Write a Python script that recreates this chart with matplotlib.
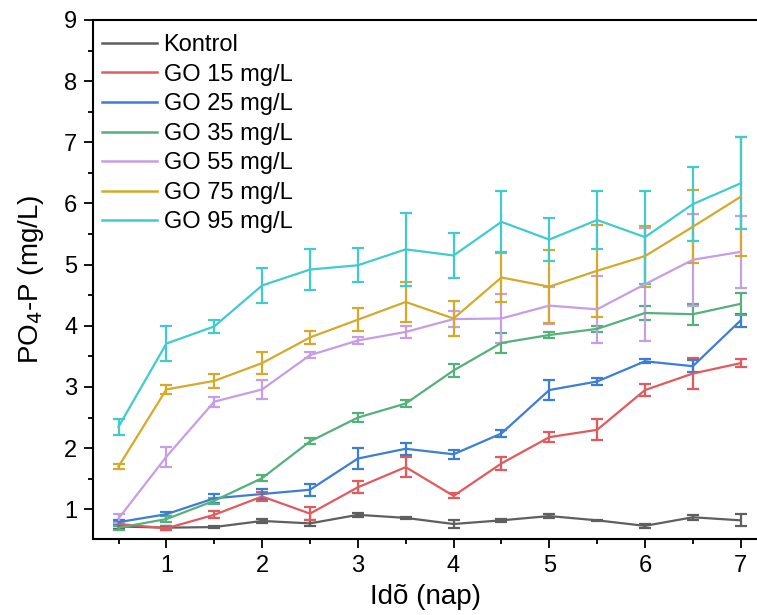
import matplotlib.pyplot as plt
from matplotlib.lines import Line2D
from matplotlib.ticker import MultipleLocator

plt.rcParams['font.family'] = ['Liberation Sans', 'DejaVu Sans']

days = [0.5, 1, 1.5, 2, 2.5, 3, 3.5, 4, 4.5, 5, 5.5, 6, 6.5, 7]

labels = ["Kontrol", "GO 15 mg/L", "GO 25 mg/L", "GO 35 mg/L",
          "GO 55 mg/L", "GO 75 mg/L", "GO 95 mg/L"]
colors = ["#5f5f5f", "#e35a5e", "#3b7ed4", "#55b07c",
          "#c79de3", "#d4aa2a", "#40cccc"]

kontrol = [0.72, 0.70, 0.71, 0.81, 0.77, 0.91, 0.86, 0.76, 0.82, 0.89, 0.82, 0.73, 0.87, 0.82]
kontrol_err = [0.04, 0.03, 0.02, 0.03, 0.05, 0.03, 0.02, 0.06, 0.02, 0.03, 0.01, 0.03, 0.04, 0.10]

go15 = [0.76, 0.69, 0.91, 1.21, 0.93, 1.36, 1.69, 1.22, 1.75, 2.18, 2.30, 2.95, 3.22, 3.39]
go15_err = [0.04, 0.03, 0.06, 0.07, 0.10, 0.10, 0.16, 0.04, 0.10, 0.08, 0.17, 0.10, 0.25, 0.06]

go25 = [0.79, 0.92, 1.18, 1.25, 1.32, 1.83, 1.99, 1.90, 2.24, 2.95, 3.09, 3.42, 3.34, 4.09]
go25_err = [0.03, 0.03, 0.07, 0.08, 0.10, 0.17, 0.10, 0.07, 0.05, 0.17, 0.05, 0.03, 0.10, 0.11]

go35 = [0.70, 0.84, 1.14, 1.51, 2.11, 2.50, 2.73, 3.27, 3.72, 3.85, 3.95, 4.21, 4.19, 4.36]
go35_err = [0.03, 0.05, 0.05, 0.05, 0.05, 0.08, 0.05, 0.10, 0.16, 0.05, 0.05, 0.12, 0.17, 0.18]

go55 = [0.85, 1.86, 2.76, 2.96, 3.52, 3.76, 3.90, 4.11, 4.12, 4.33, 4.27, 4.68, 5.08, 5.21]
go55_err = [0.07, 0.16, 0.08, 0.16, 0.05, 0.06, 0.10, 0.13, 0.40, 0.30, 0.55, 0.92, 0.75, 0.59]

go75 = [1.70, 2.96, 3.10, 3.39, 3.81, 4.10, 4.39, 4.12, 4.79, 4.64, 4.90, 5.14, 5.62, 6.11]
go75_err = [0.04, 0.08, 0.12, 0.18, 0.10, 0.19, 0.33, 0.29, 0.40, 0.60, 0.75, 0.50, 0.60, 0.97]

go95 = [2.35, 3.71, 3.99, 4.66, 4.92, 4.99, 5.25, 5.15, 5.70, 5.41, 5.73, 5.45, 5.99, 6.33]
go95_err = [0.13, 0.28, 0.10, 0.29, 0.33, 0.28, 0.60, 0.37, 0.50, 0.35, 0.48, 0.76, 0.61, 0.75]

series = [kontrol, go15, go25, go35, go55, go75, go95]
errors = [kontrol_err, go15_err, go25_err, go35_err, go55_err, go75_err, go95_err]

fig = plt.figure(figsize=(7.57, 6.15), dpi=100)
ax = fig.add_axes([0.1233, 0.1231, 0.8767, 0.8444])

handles = []
for vals, errs, col, lab in zip(series, errors, colors, labels):
    ax.errorbar(days, vals, yerr=errs, color=col, lw=1.6,
                elinewidth=1.6, capsize=4.5, capthick=1.6)
    handles.append(Line2D([], [], color=col, lw=1.8, label=lab))

ax.set_xlim(0.237, 7.17)
ax.set_ylim(0.51, 9)
ax.xaxis.set_major_locator(MultipleLocator(1))
ax.xaxis.set_minor_locator(MultipleLocator(0.5))
ax.yaxis.set_major_locator(MultipleLocator(1))
ax.yaxis.set_minor_locator(MultipleLocator(0.5))
ax.tick_params(which='major', direction='out', length=6.5, width=1.3,
               labelsize=17, pad=5)
ax.tick_params(which='minor', direction='out', length=3.5, width=1.3)
ax.set_xticks([1, 2, 3, 4, 5, 6, 7])

for s in ['left', 'bottom', 'top']:
    ax.spines[s].set_linewidth(1.5)
ax.spines['right'].set_visible(False)

ax.set_xlabel("Idõ (nap)", fontsize=20, labelpad=5)
ax.set_ylabel("PO$_4$-P (mg/L)", fontsize=20, labelpad=13)

ax.legend(handles=handles, loc='upper left', frameon=False, fontsize=17,
          handlelength=2.3, handletextpad=0.3, labelspacing=0.32,
          borderaxespad=0.2, bbox_to_anchor=(-0.008, 1.0))

fig.savefig("out.png", dpi=100)
